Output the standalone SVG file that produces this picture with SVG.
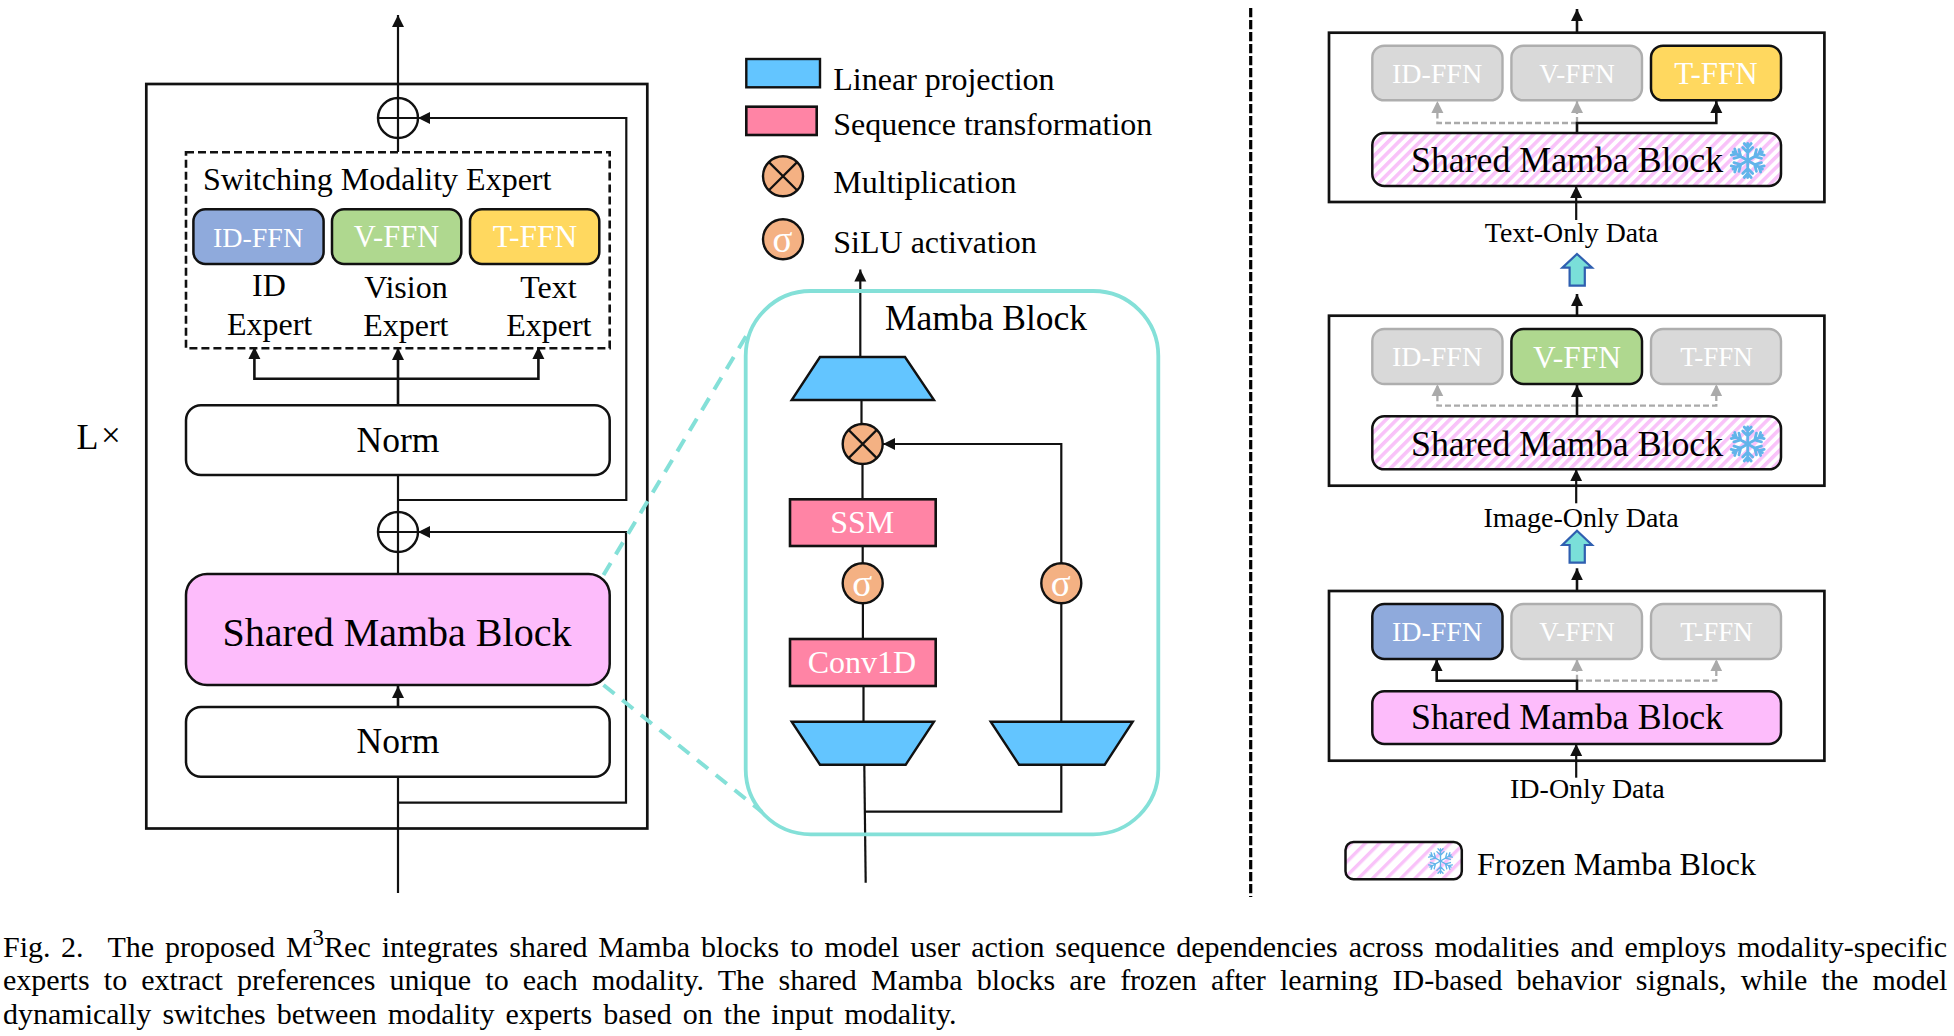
<svg xmlns="http://www.w3.org/2000/svg" width="1954" height="1036" viewBox="0 0 1954 1036">
<style>
text{font-family:"Liberation Serif","Times New Roman",serif;fill:#000}
.m{text-anchor:middle}
.w{fill:#fff;text-anchor:middle}
.ln{fill:none;stroke:#111;stroke-width:2.6}
.thin{fill:none;stroke:#111;stroke-width:2.2}
.gd{fill:none;stroke:#aaa;stroke-width:2.3;stroke-dasharray:6 3}
.box{fill:none;stroke:#111;stroke-width:2.7}
.rb{stroke:#111;stroke-width:2.5}
.gr{fill:#d9d9d9;stroke:#aeaeae;stroke-width:2.4}
.c{fill:#f4b183;stroke:#111;stroke-width:2.4}
.tz{fill:#63c5ff;stroke:#111;stroke-width:2.4}
.pk{fill:#ff84a5;stroke:#111;stroke-width:2.6}
.ba{fill:#7adfd9;stroke:#2f5fb0;stroke-width:2.2}
.tl{fill:none;stroke:#84e0d8}
.sf{fill:none;stroke:#62b4ea;stroke-linecap:round}
</style>
<defs>
<marker id="ah" markerUnits="userSpaceOnUse" markerWidth="14" markerHeight="14" refX="12" refY="6" orient="auto"><path d="M0 0L12 6L0 12Z" fill="#111"/></marker>
<marker id="ag" markerUnits="userSpaceOnUse" markerWidth="14" markerHeight="14" refX="12" refY="6" orient="auto"><path d="M0 0L12 6L0 12Z" fill="#aaa"/></marker>
<pattern id="st" patternUnits="userSpaceOnUse" width="7.5" height="7.5" patternTransform="rotate(45)"><rect width="7.5" height="7.5" fill="#fff"/><rect width="3.6" height="7.5" fill="#f9c2f9"/></pattern>
<pattern id="st2" patternUnits="userSpaceOnUse" width="10" height="10" patternTransform="rotate(45)"><rect width="10" height="10" fill="#fff"/><rect width="3.4" height="10" fill="#f9c2f9"/></pattern>
<g id="arm"><path d="M0 0V-17M0 -8L-5 -13M0 -8L5 -13M0 -13L-3.5 -17M0 -13L3.5 -17"/></g>
<g id="flake"><use href="#arm"/><use href="#arm" transform="rotate(60)"/><use href="#arm" transform="rotate(120)"/><use href="#arm" transform="rotate(180)"/><use href="#arm" transform="rotate(240)"/><use href="#arm" transform="rotate(300)"/></g>
</defs>
<rect width="1954" height="1036" fill="#fff"/>

<g id="outer-box"><rect class="box" x="146.3" y="84" width="501" height="744.5"/></g>

<g id="connectors">
<path class="thin" d="M398 128V15" marker-end="url(#ah)"/>
<path class="thin" d="M398 152V138"/>
<path class="ln" d="M398 405V348" marker-end="url(#ah)"/>
<path class="ln" d="M398 378.7H254.4V347" marker-end="url(#ah)"/>
<path class="ln" d="M398 378.7H538.4V347" marker-end="url(#ah)"/>
<path class="thin" d="M398 475V512"/>
<path class="thin" d="M398 500H626.3V118H418" marker-end="url(#ah)"/>
<path class="thin" d="M398 552V574"/>
<path class="thin" d="M398 802.7H626V532H418" marker-end="url(#ah)"/>
<path class="ln" d="M398 707V686" marker-end="url(#ah)"/>
<path class="thin" d="M398 777V893"/>
<path class="tl" stroke-width="4" stroke-dasharray="14 10" d="M603.5 575L748 333"/>
<path class="tl" stroke-width="4" stroke-dasharray="14 10" d="M603.5 685L762 812"/>

<path class="thin" d="M860.3 357V269.5" marker-end="url(#ah)"/>
<path class="thin" d="M861.5 400V424M862.5 464V499.5M862.7 546V563M862.9 603V639M863.5 686V722"/>
<path class="thin" d="M1061.3 563V444H883" marker-end="url(#ah)"/>
<path class="thin" d="M1061.3 603V722M1061.3 765V811.7H865"/>
<path class="thin" d="M864.3 765L865.7 882.7"/>

<path d="M1250.7 8V897" fill="none" stroke="#000" stroke-width="3.2" stroke-dasharray="9.3 2.7"/>

<path class="ln" d="M1577 32.7V9" marker-end="url(#ah)"/>
<path class="gd" d="M1577 123H1437.4V101" marker-end="url(#ag)"/>
<path class="gd" d="M1577 123V101" marker-end="url(#ag)"/>
<path class="ln" d="M1577 133V123H1716.3V101" marker-end="url(#ah)"/>
<path class="thin" d="M1576.2 220V186" marker-end="url(#ah)"/>
<path class="ln" d="M1577 315.7V294" marker-end="url(#ah)"/>

<path class="gd" d="M1577 405.7H1437.4V384.3" marker-end="url(#ag)"/>
<path class="gd" d="M1577 405.7H1716.3V384.3" marker-end="url(#ag)"/>
<path class="ln" d="M1577 416.3V385" marker-end="url(#ah)"/>
<path class="thin" d="M1576.2 503.3V469.3" marker-end="url(#ah)"/>
<path class="ln" d="M1577 590V568.3" marker-end="url(#ah)"/>

<path class="gd" d="M1577 680.7H1716.3V659.3" marker-end="url(#ag)"/>
<path class="gd" d="M1577 680.7V659.3" marker-end="url(#ag)"/>
<path class="ln" d="M1577 691.3V680.7H1436.7V659.3" marker-end="url(#ah)"/>
<path class="thin" d="M1576.2 777.7V744" marker-end="url(#ah)"/>
</g>

<g id="sum-top"><circle cx="398" cy="118" r="20" fill="#fff" stroke="#111" stroke-width="2.4"/><path class="thin" d="M398 98V138M378 118H418"/></g>
<g id="expert-frame"><rect x="186" y="152.3" width="423.7" height="196" fill="none" stroke="#111" stroke-width="2.6" stroke-dasharray="8 4"/><text x="203" y="189.7" font-size="32">Switching Modality Expert</text></g>
<g id="id-ffn"><rect class="rb" x="193.4" y="209.3" width="130.2" height="54.7" rx="12" fill="#8faadc"/><text class="w" x="258" y="246.5" font-size="28">ID-FFN</text></g>
<g id="v-ffn"><rect class="rb" x="332" y="209.3" width="129.3" height="54.7" rx="12" fill="#afd88f"/><text class="w" x="396.5" y="246.5" font-size="30.5">V-FFN</text></g>
<g id="t-ffn"><rect class="rb" x="470" y="209.3" width="129.3" height="54.7" rx="12" fill="#ffd85f"/><text class="w" x="535" y="246.5" font-size="31.5">T-FFN</text></g>
<g id="labels-experts">
<text class="m" x="269" y="296" font-size="32">ID</text><text class="m" x="269.6" y="335" font-size="32">Expert</text>
<text class="m" x="406" y="298" font-size="32">Vision</text><text class="m" x="405.8" y="336" font-size="32">Expert</text>
<text class="m" x="548.5" y="298" font-size="32">Text</text><text class="m" x="548.8" y="336" font-size="32">Expert</text>
</g>
<g id="norm-top"><rect class="rb" x="186" y="405.3" width="423.7" height="69.7" rx="15" fill="#fff"/><text class="m" x="398" y="452" font-size="35.5">Norm</text></g>
<g id="repeat-label"><text x="76.5" y="448.5" font-size="36">L</text><text x="101" y="447" font-size="35">×</text></g>
<g id="sum-mid"><circle cx="398" cy="532" r="20" fill="#fff" stroke="#111" stroke-width="2.4"/><path class="thin" d="M398 512V552M378 532H418"/></g>
<g id="shared-block"><rect class="rb" x="186" y="574" width="423.7" height="111" rx="21" fill="#fdbcfb"/><text class="m" x="397" y="646" font-size="40">Shared Mamba Block</text></g>
<g id="norm-bottom"><rect class="rb" x="186" y="707" width="423.7" height="69.7" rx="15" fill="#fff"/><text class="m" x="398" y="752.8" font-size="35.5">Norm</text></g>

<g id="legend">
<rect x="746.3" y="59" width="73.7" height="28.3" class="tz"/><text x="833.3" y="89.7" font-size="32">Linear projection</text>
<rect x="746.3" y="106.7" width="70.4" height="28.3" class="pk"/><text x="833.3" y="134.7" font-size="32">Sequence transformation</text>
<circle class="c" cx="783" cy="176.2" r="20"/><path class="thin" d="M768.9 162.1L797.1 190.3M797.1 162.1L768.9 190.3"/><text x="833.3" y="192.7" font-size="32">Multiplication</text>
<circle class="c" cx="783" cy="239.2" r="20"/><text class="w" x="782.5" y="252" font-size="37">σ</text><text x="833.3" y="252.7" font-size="32">SiLU activation</text>
</g>

<g id="mamba-frame"><rect class="tl" stroke-width="3.8" x="745.7" y="291" width="412.6" height="543.3" rx="65"/><text x="885" y="329.5" font-size="35.5">Mamba Block</text></g>
<g id="proj-out"><path class="tz" d="M820 357H905L934 400H791.7Z"/></g>
<g id="mult"><circle class="c" cx="862.7" cy="444" r="20"/><path class="thin" d="M848.6 429.9L876.8 458.1M876.8 429.9L848.6 458.1"/></g>
<g id="ssm"><rect class="pk" x="790" y="499.3" width="145.7" height="46.7"/><text class="w" x="862.3" y="533" font-size="32">SSM</text></g>
<g id="sigma-left"><circle class="c" cx="862.7" cy="583.3" r="20"/><text class="w" x="862.2" y="596" font-size="37">σ</text></g>
<g id="sigma-right"><circle class="c" cx="1061.3" cy="583.3" r="20"/><text class="w" x="1060.8" y="596" font-size="37">σ</text></g>
<g id="conv1d"><rect class="pk" x="790" y="639" width="145.7" height="47"/><text class="w" x="862" y="673" font-size="32">Conv1D</text></g>
<g id="proj-left"><path class="tz" d="M791.7 721.7H934L905.7 764.7H820Z"/></g>
<g id="proj-right"><path class="tz" d="M990.7 721.7H1132.7L1104.7 764.7H1019Z"/></g>

<g id="stage-text">
<rect class="box" x="1329" y="32.7" width="495.4" height="169.3"/>
<rect class="gr" x="1372.3" y="45.7" width="130.2" height="54.6" rx="12"/><text class="w" x="1437" y="82.8" font-size="28">ID-FFN</text>
<rect class="gr" x="1511.4" y="45.7" width="130.6" height="54.6" rx="12"/><text class="w" x="1577" y="82.8" font-size="27">V-FFN</text>
<rect class="rb" x="1651" y="45.7" width="130" height="54.6" rx="12" fill="#ffd85f"/><text class="w" x="1716" y="83.8" font-size="31">T-FFN</text>
<rect class="rb" x="1372.3" y="133" width="408.7" height="53" rx="12" fill="url(#st)"/><text x="1411" y="172" font-size="35.8">Shared Mamba Block</text>
<use href="#flake" class="sf" stroke-width="2.8" transform="translate(1747.7 160.5)"/>
</g>
<g id="label-text-only"><text class="m" x="1571.5" y="242" font-size="27.8">Text-Only Data</text></g>
<g id="switch-up-1"><path class="ba" d="M1577 254L1592 267.7H1584.8V285.7H1569.6V267.7H1562.4Z"/></g>

<g id="stage-image">
<rect class="box" x="1329" y="315.7" width="495.4" height="170"/>
<rect class="gr" x="1372.3" y="329" width="130.2" height="55" rx="12"/><text class="w" x="1437" y="366" font-size="28">ID-FFN</text>
<rect class="rb" x="1511.4" y="329" width="130.6" height="55" rx="12" fill="#afd88f"/><text class="w" x="1577" y="368" font-size="31.5">V-FFN</text>
<rect class="gr" x="1651" y="329" width="130" height="55" rx="12"/><text class="w" x="1716.5" y="366" font-size="27">T-FFN</text>
<rect class="rb" x="1372.3" y="416.3" width="408.7" height="53" rx="12" fill="url(#st)"/><text x="1411" y="455.5" font-size="35.8">Shared Mamba Block</text>
<use href="#flake" class="sf" stroke-width="2.8" transform="translate(1747.7 444)"/>
</g>
<g id="label-image-only"><text class="m" x="1581" y="527" font-size="28">Image-Only Data</text></g>
<g id="switch-up-2"><path class="ba" d="M1577 530.7L1592 545H1584.8V562.7H1569.6V545H1562.4Z"/></g>

<g id="stage-id">
<rect class="box" x="1329" y="591" width="495.4" height="169.7"/>
<rect class="rb" x="1372.3" y="604" width="130.2" height="55" rx="12" fill="#8faadc"/><text class="w" x="1437" y="641" font-size="28">ID-FFN</text>
<rect class="gr" x="1511.4" y="604" width="130.6" height="55" rx="12"/><text class="w" x="1577" y="641" font-size="27">V-FFN</text>
<rect class="gr" x="1651" y="604" width="130" height="55" rx="12"/><text class="w" x="1716.5" y="641" font-size="27">T-FFN</text>
<rect class="rb" x="1372.3" y="691.3" width="408.7" height="52.7" rx="12" fill="#fdbcfb"/><text x="1411" y="729.3" font-size="35.8">Shared Mamba Block</text>
</g>
<g id="label-id-only"><text class="m" x="1587.4" y="798" font-size="28">ID-Only Data</text></g>
<g id="legend-frozen">
<rect class="rb" x="1345.5" y="842" width="116.3" height="37.3" rx="8" fill="url(#st2)"/>
<use href="#flake" class="sf" stroke-width="1.9" transform="translate(1440.5 861) scale(.72)"/>
<text x="1477" y="875.3" font-size="32">Frozen Mamba Block</text>
</g>

<g id="caption" font-size="30">
<text y="956.7"><tspan x="3">Fig.</tspan><tspan x="61">2.</tspan><tspan x="107.5" word-spacing="3.4">The proposed M</tspan><tspan dy="-12" font-size="23">3</tspan><tspan dy="12" word-spacing="3.4">Rec integrates shared Mamba blocks to model user action sequence dependencies across modalities and employs modality-specific</tspan></text>
<text y="990" x="3" word-spacing="6.67">experts to extract preferences unique to each modality. The shared Mamba blocks are frozen after learning ID-based behavior signals, while the model</text>
<text y="1024" x="3" word-spacing="3.6">dynamically switches between modality experts based on the input modality.</text>
</g>
</svg>
